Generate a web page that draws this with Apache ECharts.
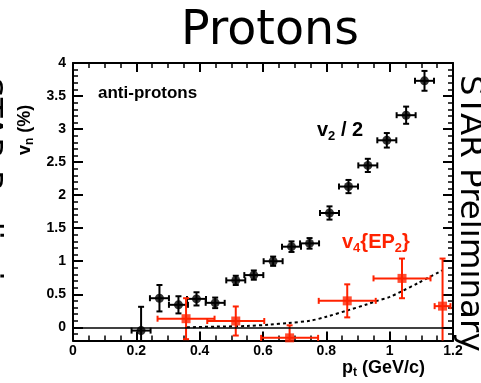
<!DOCTYPE html>
<html>
<head>
<meta charset="utf-8">
<script src="https://cdn.jsdelivr.net/npm/echarts@6/dist/echarts.min.js"></script>
<style>
  html, body { margin: 0; padding: 0; background: #fff; }
  #chart { width: 481px; height: 383px; }
</style>
</head>
<body>
<div id="chart"></div>
<script>
// anti-proton v2/2 (black circles)
const ptV2     = [0.215, 0.273, 0.333, 0.390, 0.449, 0.514, 0.571, 0.632, 0.690, 0.747, 0.810, 0.870, 0.931, 0.991, 1.052, 1.110];
const ptV2Err  = [0.03, 0.03, 0.03, 0.03, 0.03, 0.03, 0.03, 0.03, 0.03, 0.03, 0.03, 0.03, 0.03, 0.03, 0.03, 0.03];
const v2Half   = [-0.05, 0.44, 0.34, 0.43, 0.37, 0.71, 0.79, 1.00, 1.22, 1.27, 1.73, 2.13, 2.45, 2.83, 3.21, 3.73];
const v2Err    = [0.36, 0.20, 0.13, 0.10, 0.08, 0.07, 0.07, 0.07, 0.08, 0.08, 0.10, 0.10, 0.10, 0.11, 0.13, 0.15];

// anti-proton v4{EP2} (red squares)
const ptV4     = [0.357, 0.514, 0.684, 0.866, 1.039, 1.167];
const ptV4Err  = [0.09, 0.09, 0.09, 0.09, 0.09, 0.025];
const v4       = [0.13, 0.095, -0.16, 0.40, 0.74, 0.32];
const v4Err    = [0.31, 0.22, 0.19, 0.25, 0.30, 0.72];

// dotted reference curve
const curvePt  = [0.36, 0.45, 0.55, 0.62, 0.68, 0.75, 0.80, 0.87, 0.93, 0.96, 1.00, 1.04, 1.09, 1.165];
const curveV   = [0.00, 0.01, 0.02, 0.04, 0.065, 0.10, 0.16, 0.26, 0.35, 0.40, 0.46, 0.55, 0.67, 0.86];

// axis ticks
const xTicks   = [0, 0.2, 0.4, 0.6, 0.8, 1, 1.2];
const yTicks   = [0, 0.5, 1, 1.5, 2, 2.5, 3, 3.5, 4];

const RED = '#ff2200';
const FONT = '"Liberation Sans", Arial, sans-serif';
const SANS = '"DejaVu Sans", sans-serif';

function errBars(color) {
  return function (params, api) {
    const x = api.value(0), y = api.value(1), ex = api.value(2), ey = api.value(3);
    const cs = params.coordSys;
    const x0 = cs.x, x1 = cs.x + cs.width, y0 = cs.y, y1 = cs.y + cs.height;
    const c = api.coord([x, y]);
    let l = api.coord([x - ex, y])[0], r = api.coord([x + ex, y])[0];
    let t = api.coord([x, y + ey])[1], b = api.coord([x, y - ey])[1];
    const capL = l >= x0, capR = r <= x1, capT = t >= y0, capB = b <= y1;
    l = Math.max(l, x0); r = Math.min(r, x1); t = Math.max(t, y0); b = Math.min(b, y1);
    const st = { stroke: color, lineWidth: 2 };
    const ch = [
      { type: 'line', shape: { x1: l, y1: c[1], x2: r, y2: c[1] }, style: st },
      { type: 'line', shape: { x1: c[0], y1: t, x2: c[0], y2: b }, style: st }
    ];
    const k = 3;
    if (capL) ch.push({ type: 'line', shape: { x1: l, y1: c[1] - k, x2: l, y2: c[1] + k }, style: st });
    if (capR) ch.push({ type: 'line', shape: { x1: r, y1: c[1] - k, x2: r, y2: c[1] + k }, style: st });
    if (capT) ch.push({ type: 'line', shape: { x1: c[0] - k, y1: t, x2: c[0] + k, y2: t }, style: st });
    if (capB) ch.push({ type: 'line', shape: { x1: c[0] - k, y1: b, x2: c[0] + k, y2: b }, style: st });
    return { type: 'group', children: ch };
  };
}

const v2Rows = ptV2.map((p, i) => [p, v2Half[i], ptV2Err[i], v2Err[i]]);
const v4Rows = ptV4.map((p, i) => [p, v4[i], ptV4Err[i], v4Err[i]]);

const labelStyle = { color: '#000', fontFamily: FONT, fontWeight: 'bold', fontSize: 14 };
const lineBlack = { color: '#000', width: 2 };

function xAx(pos, labels) {
  return {
    type: 'value', position: pos, min: 0, max: 1.2, interval: 0.2,
    axisLine: { show: true, onZero: false, lineStyle: lineBlack },
    axisTick: { show: true, inside: true, length: 9, lineStyle: lineBlack },
    minorTick: { show: true, splitNumber: 4, length: 5, lineStyle: { color: '#000', width: 1.5 } },
    axisLabel: labels ? Object.assign({ show: true, margin: 4, customValues: xTicks }, labelStyle) : { show: false },
    splitLine: { show: false }, minorSplitLine: { show: false }
  };
}
function yMinor(pos) {
  return {
    type: 'value', position: pos, min: -0.2, max: 4, interval: 0.1,
    axisLine: { show: true, onZero: false, lineStyle: lineBlack },
    axisTick: { show: true, inside: true, length: 5, lineStyle: { color: '#000', width: 1.5 } },
    axisLabel: { show: false }, splitLine: { show: false }
  };
}
function yMajor(pos, labels) {
  return {
    type: 'value', position: pos, min: -0.2, max: 4,
    axisLine: { show: false, onZero: false },
    axisTick: { show: true, inside: true, length: 10, customValues: yTicks, lineStyle: lineBlack },
    axisLabel: labels ? Object.assign({ show: true, margin: 7, customValues: yTicks }, labelStyle) : { show: false },
    splitLine: { show: false }
  };
}

// bold text with subscripts, laid out as rich text
function subText(parts, size, subSize, color, pad) {
  const rich = {
    a: { fontFamily: FONT, fontWeight: 'bold', fontSize: size, fill: color },
    s: { fontFamily: FONT, fontWeight: 'bold', fontSize: subSize, fill: color, padding: [pad, 0, 0, 0] }
  };
  return {
    text: parts, rich: rich, fill: color, verticalAlign: 'middle',
    fontFamily: FONT, fontWeight: 'bold', fontSize: size
  };
}

const chart = echarts.init(document.getElementById('chart'), null, { renderer: 'canvas' });
chart.setOption({
  animation: false,
  backgroundColor: '#fff',
  grid: { left: 73, right: 28, top: 63, bottom: 42.5 },
  xAxis: [xAx('bottom', true), xAx('top', false)],
  yAxis: [yMinor('left'), yMajor('left', true), yMinor('right'), yMajor('right', false)],
  series: [
    {
      type: 'line', xAxisIndex: 0, yAxisIndex: 0, z: 1,
      data: curvePt.map((p, i) => [p, curveV[i]]),
      smooth: 0.3, showSymbol: false, symbol: 'none',
      lineStyle: { color: '#000', width: 2, type: [3, 3] },
      markLine: {
        silent: true, symbol: 'none', label: { show: false },
        lineStyle: { color: '#000', width: 1.5, type: 'solid' },
        data: [{ yAxis: 0 }]
      }
    },
    { type: 'custom', xAxisIndex: 0, yAxisIndex: 0, z: 3, renderItem: errBars('#000'), data: v2Rows },
    { type: 'custom', xAxisIndex: 0, yAxisIndex: 0, z: 3, renderItem: errBars(RED), data: v4Rows },
    {
      type: 'scatter', xAxisIndex: 0, yAxisIndex: 0, z: 4, symbol: 'circle', symbolSize: 9,
      itemStyle: { color: '#000' }, data: ptV2.map((p, i) => [p, v2Half[i]])
    },
    {
      type: 'scatter', xAxisIndex: 0, yAxisIndex: 0, z: 4, symbol: 'rect', symbolSize: 9,
      itemStyle: { color: RED }, data: ptV4.map((p, i) => [p, v4[i]])
    }
  ],
  graphic: [
    {
      type: 'text', left: 181, top: 8,
      style: { text: 'Protons', fontFamily: SANS, fontSize: 47.5, fill: '#000' }
    },
    {
      type: 'text', x: 98, y: 93,
      style: { text: 'anti-protons', fontFamily: FONT, fontWeight: 'bold', fontSize: 17, fill: '#000', verticalAlign: 'middle' }
    },
    { type: 'text', x: 317, y: 130, style: subText('{a|v}{s|2}{a| / 2}', 20, 13, '#000', 12) },
    { type: 'text', x: 342, y: 242, style: subText('{a|v}{s|4}{a|{EP}{s|2}}', 20, 13, RED, 12) },
    { type: 'text', x: 342, y: 368, style: subText('{a|p}{s|t}{a| (GeV/c)}', 18, 12, '#000', 10) },
    {
      type: 'text', x: 25, y: 155, rotation: Math.PI / 2,
      style: Object.assign(subText('{a|v}{s|n}{a| (%)}', 18, 12, '#000', 10), { align: 'left' })
    },
    {
      type: 'text', x: 469, y: 75, rotation: -Math.PI / 2,
      style: { text: 'STAR Preliminary', fontFamily: SANS, fontSize: 32.5, fill: '#000', verticalAlign: 'middle', align: 'left' }
    },
    {
      type: 'text', x: -12, y: 77, rotation: -Math.PI / 2,
      style: { text: 'STAR Preliminary', fontFamily: SANS, fontSize: 32.5, fill: '#000', verticalAlign: 'middle', align: 'left' }
    }
  ]
});
</script>
</body>
</html>
